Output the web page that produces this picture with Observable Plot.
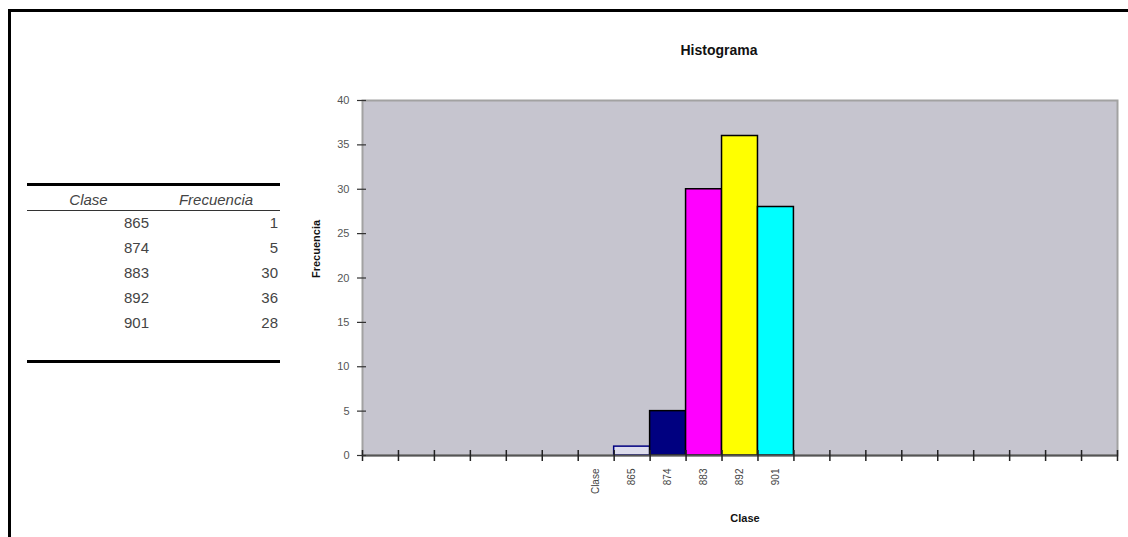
<!DOCTYPE html>
<html>
<head>
<meta charset="utf-8">
<script src="https://cdn.jsdelivr.net/npm/d3@7"></script>
<script src="https://cdn.jsdelivr.net/npm/@observablehq/plot@0.6"></script>
<style>
  html, body { margin: 0; padding: 0; background: #fff; }
  #wrap { position: relative; width: 1128px; height: 537px; overflow: hidden; background: #fff; font-family: "Liberation Sans", Arial, sans-serif; }
  #chart { position: absolute; left: 0; top: 0; }
  .hline { position: absolute; background: #000; }
  .cell { position: absolute; font-size: 15px; color: #444; line-height: 18px; }
</style>
</head>
<body>
<div id="wrap"><div id="chart"></div></div>
<script>
// ---- data ----
const title = "Histograma";
const xTitle = "Clase";
const yTitle = "Frecuencia";
const classLabels = ["Clase", "865", "874", "883", "892", "901"];
const frequencies = [0, 1, 5, 30, 36, 28];
const barColors = ["none", "#dcdcec", "#000080", "#ff00ff", "#ffff00", "#00ffff"];
const barStrokes = ["none", "#000080", "#000000", "#000000", "#000000", "#000000"];
const yTicks = [0, 5, 10, 15, 20, 25, 30, 35, 40];
const tableClasses = ["865", "874", "883", "892", "901"];
const tableFreqs = [1, 5, 30, 36, 28];
const slotCount = 21;   // Excel category slots on the axis
const firstSlot = 6;    // slot where "Clase" sits

const bars = classLabels.map((c, i) => ({
  label: c, value: frequencies[i], slot: firstSlot + i,
  fill: barColors[i], stroke: barStrokes[i]
}));

const chart = Plot.plot({
  width: 1128, height: 537,
  marginLeft: 362, marginRight: 11, marginTop: 100, marginBottom: 82,
  style: { fontFamily: "'Liberation Sans', Arial, sans-serif", background: "transparent" },
  x: { domain: [0, slotCount], axis: null },
  y: { domain: [0, 40], axis: null },
  marks: [
    Plot.frame({ fill: "#c6c5cf", stroke: "#a2a2a2", strokeWidth: 2 }),
    Plot.rectY(bars.filter(d => d.value > 0), {
      x1: "slot", x2: d => d.slot + 1, y1: 0, y2: "value",
      fill: "fill", stroke: "stroke", strokeWidth: 1.5
    }),
    Plot.ruleY([0], { stroke: "#555", strokeWidth: 2 }),
    Plot.ruleX(d3.range(slotCount + 1), { x: d => d, y1: 0, y2: 0, insetTop: -5, insetBottom: -6, stroke: "#222", strokeWidth: 1.5 }),
    Plot.ruleY(yTicks, { y: d => d, x1: 0, x2: 0, insetLeft: -5, insetRight: -4, stroke: "#333", strokeWidth: 1.2 }),
    Plot.text(yTicks, { x: 0, y: d => d, text: d => String(d), dx: -13, textAnchor: "end", fontSize: 11, fill: "#555" }),
    Plot.text(bars, { x: d => d.slot + 0.5, y: 0, text: "label", rotate: -90, textAnchor: "end", dy: 13, fontSize: 10, fill: "#444" }),
    Plot.text([yTitle], { frameAnchor: "left", dx: -46, rotate: -90, text: d => d, fontWeight: "bold", fontSize: 11, fill: "#111" }),
    Plot.text([xTitle], { frameAnchor: "bottom", dx: 5, dy: 66, text: d => d, fontWeight: "bold", fontSize: 11, fill: "#111" }),
    Plot.text([title], { frameAnchor: "top", dx: -21, dy: -55, text: d => d, fontWeight: "bold", fontSize: 14, fill: "#111",
      fontFamily: "'Liberation Sans Narrow', 'Liberation Sans', Arial, sans-serif" })
  ]
});
document.getElementById("chart").appendChild(chart);

// ---- outer frame and side table ----
const wrap = document.getElementById("wrap");
function line(x, y, w, h, color) {
  const d = document.createElement("div");
  d.className = "hline";
  Object.assign(d.style, { left: x + "px", top: y + "px", width: w + "px", height: h + "px" });
  if (color) d.style.background = color;
  wrap.appendChild(d);
}
function cell(text, x, y, w, align, italic) {
  const d = document.createElement("div");
  d.className = "cell";
  d.textContent = text;
  Object.assign(d.style, { left: x + "px", top: y + "px", width: w + "px", textAlign: align });
  if (italic) d.style.fontStyle = "italic";
  wrap.appendChild(d);
}
line(8, 9, 1120, 3);
line(8, 9, 3, 528);
line(27, 183, 253, 3);
line(27, 210, 253, 1, "#333");
line(27, 360, 253, 3);
cell(xTitle, 27, 191, 123, "center", true);
cell(yTitle, 152, 191, 128, "center", true);
tableClasses.forEach((c, i) => {
  cell(c, 27, 214 + i * 25, 122, "right", false);
  cell(String(tableFreqs[i]), 152, 214 + i * 25, 126, "right", false);
});
</script>
</body>
</html>
